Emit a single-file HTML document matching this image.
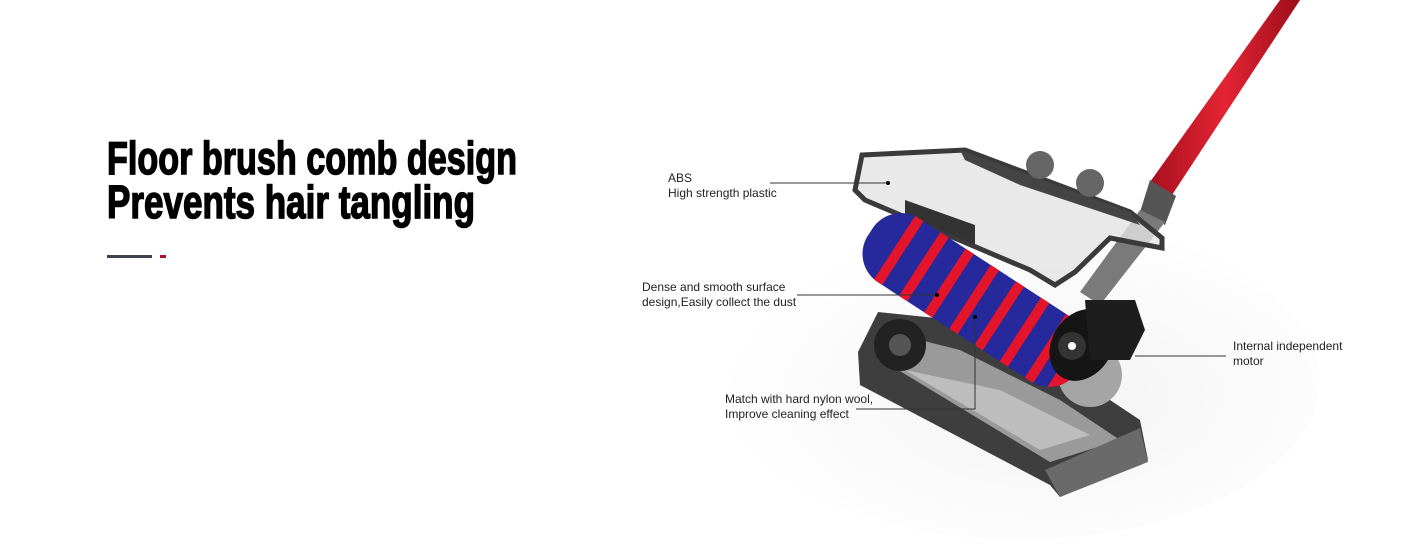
<!DOCTYPE html>
<html><head><meta charset="utf-8"><style>
html,body{margin:0;padding:0;background:#fff;width:1423px;height:550px;overflow:hidden}
svg{display:block}
</style></head><body>
<svg width="1423" height="550" viewBox="0 0 1423 550" xmlns="http://www.w3.org/2000/svg">
<defs>
<radialGradient id="bg" cx="0.55" cy="0.55" r="0.55"><stop offset="0" stop-color="#f3f3f3"/><stop offset="1" stop-color="#fff"/></radialGradient>
<linearGradient id="red" x1="0" y1="0" x2="1" y2="0"><stop offset="0" stop-color="#a8101e"/><stop offset="0.5" stop-color="#e42434"/><stop offset="1" stop-color="#9a0e1a"/></linearGradient>
<clipPath id="rc"><rect x="-125" y="-38" width="250" height="76" rx="34"/></clipPath>
</defs>
<rect width="1423" height="550" fill="#fff"/>
<ellipse cx="1020" cy="380" rx="300" ry="160" fill="url(#bg)"/>
<!-- title -->
<g font-family="Liberation Sans, sans-serif" font-weight="bold" fill="#000" stroke="#000" stroke-width="1.5">
<text x="107" y="174" font-size="46" textLength="410" lengthAdjust="spacingAndGlyphs">Floor brush comb design</text>
<text x="107" y="218" font-size="46" textLength="368" lengthAdjust="spacingAndGlyphs">Prevents hair tangling</text>
</g>
<rect x="107" y="255" width="45" height="3" fill="#3e4250"/>
<rect x="160" y="255" width="6" height="3" fill="#b01020"/>
<!-- handle -->
<polygon points="1280,0 1300,0 1172,195 1150,182" fill="url(#red)"/>
<polygon points="1150,180 1176,196 1165,225 1140,212" fill="#555"/>
<polygon points="1140,210 1165,222 1100,305 1080,292" fill="#7a7a7a"/>
<!-- base frame -->
<polygon points="858,352 878,312 955,320 1010,350 1080,380 1140,420 1148,460 1060,497 1050,485 860,385" fill="#3e3e3e"/>
<polygon points="885,362 1050,462 1120,440 1060,400 960,350 900,335" fill="#9a9a9a"/>
<polygon points="905,370 1040,450 1090,435 1000,390" fill="#bdbdbd"/>
<polygon points="1045,470 1140,428 1148,462 1060,497" fill="#6a6a6a"/>
<circle cx="900" cy="345" r="26" fill="#222"/>
<circle cx="900" cy="345" r="11" fill="#555"/>
<circle cx="1090" cy="375" r="32" fill="#a5a5a5"/>
<!-- top cover -->
<polygon points="862,155 965,150 1130,212 1162,238 1162,248 1110,238 1075,272 1055,285 1030,270 865,200 855,190" fill="#e4e4e4" fill-opacity="0.8" stroke="#3a3a3a" stroke-width="5"/>
<polygon points="960,150 1130,212 1140,225 1020,185 965,160" fill="#444"/>
<circle cx="1040" cy="165" r="14" fill="#666"/>
<circle cx="1090" cy="183" r="14" fill="#666"/>
<polygon points="905,200 975,225 975,245 905,215" fill="#333"/>
<!-- roller -->
<g transform="translate(975,300) rotate(33)">
<g clip-path="url(#rc)">
<rect x="-125" y="-38" width="250" height="76" fill="#25299c"/>
<g fill="#e4142a">
<rect x="-96" y="-40" width="10" height="80" rx="3"/>
<rect x="-66" y="-40" width="10" height="80" rx="3"/>
<rect x="-36" y="-40" width="10" height="80" rx="3"/>
<rect x="-6" y="-40" width="10" height="80" rx="3"/>
<rect x="24" y="-40" width="10" height="80" rx="3"/>
<rect x="54" y="-40" width="10" height="80" rx="3"/>
<rect x="84" y="-40" width="10" height="80" rx="3"/>
<rect x="108" y="-40" width="20" height="80"/>
</g>
</g>
</g>
<!-- motor end cap -->
<ellipse cx="1082" cy="345" rx="30" ry="38" fill="#151515" transform="rotate(33 1082 345)"/>
<polygon points="1085,300 1135,300 1145,330 1130,360 1090,360" fill="#1d1d1d"/>
<circle cx="1072" cy="346" r="14" fill="#333"/>
<circle cx="1072" cy="346" r="4" fill="#fff"/>
<!-- labels -->
<g font-family="Liberation Sans, sans-serif" font-size="12" fill="#222">
<text x="668" y="182">ABS</text>
<text x="668" y="197">High strength plastic</text>
<text x="642" y="291">Dense and smooth surface</text>
<text x="642" y="306">design,Easily collect the dust</text>
<text x="725" y="403">Match with hard nylon wool,</text>
<text x="725" y="418">Improve cleaning effect</text>
<text x="1233" y="350">Internal independent</text>
<text x="1233" y="365">motor</text>
</g>
<g stroke="#333" stroke-width="1" fill="none">
<polyline points="770,183 888,183"/>
<polyline points="797,295 937,295"/>
<polyline points="856,409 975,409 975,317"/>
<polyline points="1135,356 1226,356"/>
</g>
<g fill="#000"><circle cx="888" cy="183" r="2"/><circle cx="937" cy="295" r="2"/><circle cx="975" cy="317" r="2"/></g>
</svg>
</body></html>
